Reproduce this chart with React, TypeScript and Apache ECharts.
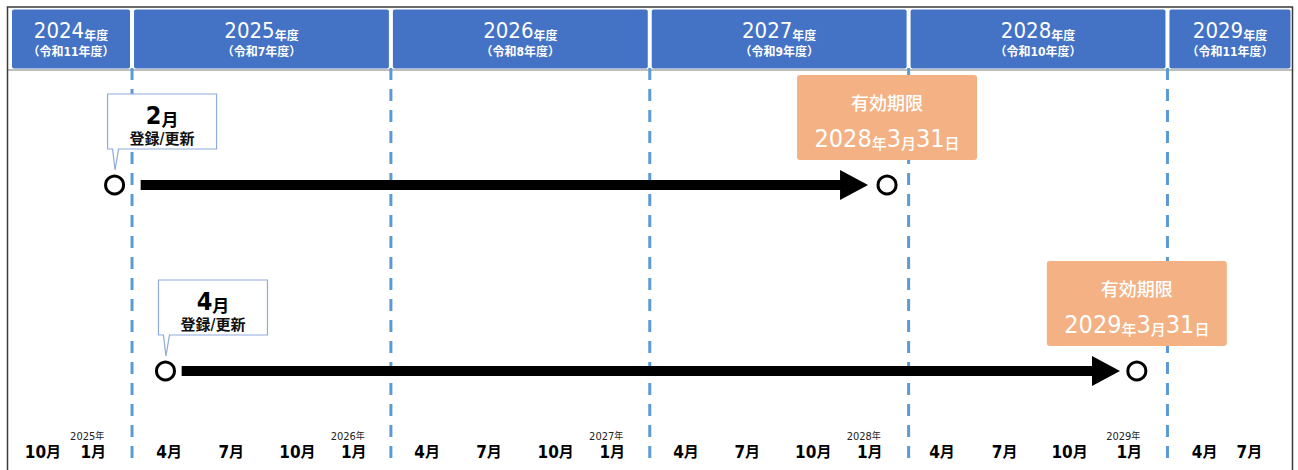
import React, { useEffect, useRef } from "react";
import * as echarts from "echarts";

const FONT = "'Liberation Sans Narrow','DejaVu Sans Condensed','Noto Sans CJK JP',sans-serif";

// x unit: months counted from 1 April 2025 (start of 2025年度)
const axisMin = -5.75;
const axisMax = 53.75;

const fiscalYears = [2024, 2025, 2026, 2027, 2028, 2029];
const reiwaLabels = ["（令和11年度）", "（令和7年度）", "（令和8年度）", "（令和9年度）", "（令和10年度）", "（令和11年度）"];

const monthTickPos = [-4.13, -1.8, 1.72, 4.6, 7.67, 10.28, 13.68, 16.55, 19.64, 22.26, 25.68, 28.52, 31.58, 34.2, 37.55, 40.45, 43.46, 46.23, 49.72, 51.8];
const monthTickLabels = ["10月", "1月", "4月", "7月", "10月", "1月", "4月", "7月", "10月", "1月", "4月", "7月", "10月", "1月", "4月", "7月", "10月", "1月", "4月", "7月"];
const yearTickLabels = ["", "2025年", "", "", "", "2026年", "", "", "", "2027年", "", "", "", "2028年", "", "", "", "2029年", "", ""];

const rows = ["2月登録", "4月登録"];
const registrationMonth = ["2", "4"];
const registrationText = "登録/更新";
const startPos = [-0.81, 1.55];
const arrowFrom = [0.4, 2.3];
const arrowTo = [34.12, 45.8];
const endPos = [35.0, 46.58];
const expiryTitle = "有効期限";
const expiryYear = ["2028", "2029"];
const expiryMonth = ["3", "3"];
const expiryDay = ["31", "31"];

const fyStart = (fy: number) => (fy - 2025) * 12;

export default function App() {
  const ref = useRef<HTMLDivElement>(null);
  useEffect(() => {
    if (!ref.current) return;
    const chart = echarts.init(ref.current, null, { renderer: "svg" });

    const headerData = fiscalYears.map((fy, i) => [fyStart(fy), fyStart(fy) + 12, i]);
    const boundaries = fiscalYears.slice(1).map((fy) => [fyStart(fy), 0]);

    const option: any = {
      animation: false,
      backgroundColor: "#ffffff",
      textStyle: { fontFamily: FONT },
      grid: { left: 8, right: 6.5, top: 92, bottom: 6 },
      xAxis: {
        type: "value",
        min: axisMin,
        max: axisMax,
        axisLine: { show: false },
        axisTick: { show: false },
        splitLine: { show: false },
        axisLabel: {
          inside: true,
          margin: 3,
          customValues: monthTickPos,
          formatter: (v: number) => {
            const i = monthTickPos.findIndex((p) => Math.abs(p - v) < 1e-6);
            if (i < 0) return "";
            const m = monthTickLabels[i];
            const y = yearTickLabels[i];
            const md = m.replace("月", "");
            return y ? `{y|${y.replace("年", "")}}{yk|年}\n{m|${md}}{mk|月}` : `{m|${md}}{mk|月}`;
          },
          rich: {
            y: { fontFamily: FONT, fontSize: 11, color: "#222", lineHeight: 14 },
            yk: { fontFamily: FONT, fontSize: 9, color: "#222", lineHeight: 14, padding: [0, 12, 0, 0] },
            m: { fontFamily: FONT, fontSize: 17, fontWeight: "bold", color: "#000", lineHeight: 18 },
            mk: { fontFamily: FONT, fontSize: 15, fontWeight: "bold", color: "#000", lineHeight: 18 },
          },
        },
      },
      yAxis: { type: "category", data: rows, inverse: true, show: false },
      graphic: [
        { type: "line", z: 0, shape: { x1: 8, y1: 70, x2: 1292, y2: 70 }, style: { stroke: "#BFBFBF", lineWidth: 2 } },
        { type: "rect", z: 100, shape: { x: 7.5, y: 7, width: 1285, height: 500 }, style: { fill: "none", stroke: "#3a3a3a", lineWidth: 1.5 } },
      ],
      series: [
        {
          type: "custom",
          name: "dividers",
          clip: false,
          z: 2,
          data: boundaries,
          renderItem: (params: any, api: any) => {
            const cs = params.coordSys;
            const x = api.coord([api.value(0), 0])[0];
            return {
              type: "line",
              shape: { x1: x, y1: cs.y - 24, x2: x, y2: cs.y + cs.height + 3 },
              style: { stroke: "#5B9BD5", lineWidth: 3, lineDash: [12, 9] },
            };
          },
        },
        {
          type: "custom",
          name: "header",
          clip: false,
          z: 3,
          data: headerData,
          renderItem: (params: any, api: any) => {
            const cs = params.coordSys;
            const i = api.value(2);
            let x0 = api.coord([api.value(0), 0])[0];
            let x1 = api.coord([api.value(1), 0])[0];
            x0 = Math.max(x0, cs.x + 2);
            x1 = Math.min(x1, cs.x + cs.width + 1);
            const top = cs.y - 82.5;
            return {
              type: "group",
              children: [
                { type: "rect", shape: { x: x0 + 2, y: top, width: x1 - x0 - 4, height: 59, r: 2 }, style: { fill: "#4472C4" } },
                {
                  type: "text",
                  x: (x0 + x1) / 2,
                  y: top + 30,
                  style: {
                    text: `{a|${fiscalYears[i]}}{b|年度}\n{c|${reiwaLabels[i]}}`,
                    align: "center",
                    verticalAlign: "middle",
                    rich: {
                      a: { fontFamily: FONT, fontSize: 22, fill: "#fff", lineHeight: 24, verticalAlign: "bottom" },
                      b: { fontFamily: FONT, fontSize: 12, fontWeight: "bold", fill: "#fff", lineHeight: 19, verticalAlign: "bottom" },
                      c: { fontFamily: FONT, fontSize: 12, fontWeight: "bold", fill: "#fff", lineHeight: 20 },
                    },
                  },
                },
              ],
            };
          },
        },
        {
          type: "custom",
          name: "arrows",
          clip: false,
          z: 5,
          data: rows.map((_, i) => [arrowFrom[i], arrowTo[i], i]),
          renderItem: (params: any, api: any) => {
            const p0 = api.coord([api.value(0), api.value(2)]);
            const p1 = api.coord([api.value(1), api.value(2)]);
            const y = p0[1];
            const x0 = p0[0];
            const x1 = p1[0];
            return {
              type: "polygon",
              shape: {
                points: [
                  [x0, y - 5], [x1 - 28, y - 5], [x1 - 28, y - 15], [x1, y],
                  [x1 - 28, y + 15], [x1 - 28, y + 5], [x0, y + 5],
                ],
              },
              style: { fill: "#000" },
            };
          },
        },
        {
          type: "scatter",
          name: "points",
          z: 6,
          symbol: "circle",
          symbolSize: 18,
          itemStyle: { color: "#ffffff", borderColor: "#000000", borderWidth: 3, opacity: 1 },
          data: rows.flatMap((_, i) => [[startPos[i], i], [endPos[i], i]]),
        },
        {
          type: "custom",
          name: "callouts",
          clip: false,
          z: 7,
          data: rows.map((_, i) => [startPos[i], i]),
          renderItem: (params: any, api: any) => {
            const i = api.value(1);
            const c = api.coord([api.value(0), i]);
            const L = c[0] - 7;
            const T = c[1] - 91;
            const W = 109;
            const H = 55;
            const B = T + H;
            return {
              type: "group",
              children: [
                {
                  type: "polygon",
                  shape: { points: [[L, T], [L + W, T], [L + W, B], [L + 11, B], [c[0] + 0.5, c[1] - 15], [L + 5, B], [L, B]] },
                  style: { fill: "#ffffff", stroke: "#8FAADC", lineWidth: 1.2 },
                },
                {
                  type: "text",
                  x: L + W / 2,
                  y: T + 22,
                  style: {
                    text: `{n|${registrationMonth[i]}}{u|月}`,
                    align: "center",
                    verticalAlign: "middle",
                    rich: {
                      n: { fontFamily: FONT, fontSize: 25, fontWeight: "bold", fill: "#000", lineHeight: 24, verticalAlign: "bottom" },
                      u: { fontFamily: FONT, fontSize: 17, fontWeight: "bold", fill: "#000", lineHeight: 20, verticalAlign: "bottom" },
                    },
                  },
                },
                {
                  type: "text",
                  x: L + W / 2,
                  y: T + 45,
                  style: { text: registrationText, align: "center", verticalAlign: "middle", fontFamily: FONT, fontSize: 15, fontWeight: "bold", fill: "#111" },
                },
              ],
            };
          },
        },
        {
          type: "custom",
          name: "expiry",
          clip: false,
          z: 7,
          data: rows.map((_, i) => [endPos[i], i]),
          renderItem: (params: any, api: any) => {
            const i = api.value(1);
            const c = api.coord([api.value(0), i]);
            const W = 180;
            const H = 85;
            const L = c[0] - W / 2;
            const T = c[1] - 110;
            return {
              type: "group",
              children: [
                { type: "rect", shape: { x: L, y: T, width: W, height: H, r: 3 }, style: { fill: "#F4B183" } },
                {
                  type: "text",
                  x: c[0],
                  y: T + 28,
                  style: { text: expiryTitle, align: "center", verticalAlign: "middle", fontFamily: FONT, fontSize: 18, fontWeight: 500, fill: "#fff", letterSpacing: 2 },
                },
                {
                  type: "text",
                  x: c[0],
                  y: T + 63,
                  style: {
                    text: `{d|${expiryYear[i]}}{s|年}{d|${expiryMonth[i]}}{s|月}{d|${expiryDay[i]}}{s|日}`,
                    align: "center",
                    verticalAlign: "middle",
                    rich: {
                      d: { fontFamily: FONT, fontSize: 25, fontWeight: 500, fill: "#fff", lineHeight: 26, verticalAlign: "bottom" },
                      s: { fontFamily: FONT, fontSize: 15, fontWeight: 500, fill: "#fff", lineHeight: 20, verticalAlign: "bottom" },
                    },
                  },
                },
              ],
            };
          },
        },
      ],
    };

    chart.setOption(option);
    return () => chart.dispose();
  }, []);

  return (
    <div
      ref={ref}
      style={{ position: "absolute", left: 0, top: 0, width: 1298, height: 470, background: "#fff" }}
    />
  );
}
